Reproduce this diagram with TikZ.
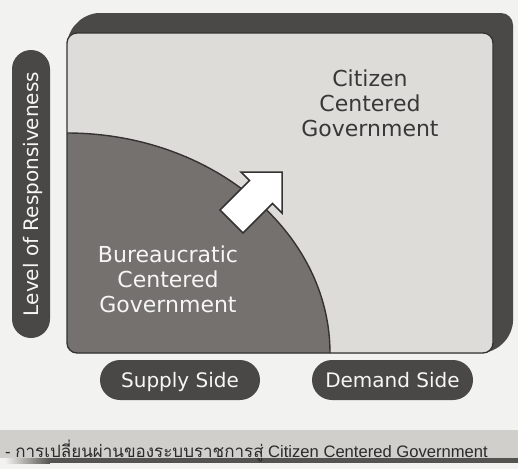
\documentclass[tikz,border=0pt]{standalone}
\usepackage{fontspec}
\setmainfont{DejaVu Sans}
\newfontfamily\thaifont[Script=Thai]{Loma}
\newfontfamily\capfont{Liberation Sans}
\definecolor{paper}{HTML}{F2F2F0}
\definecolor{framedark}{HTML}{4B4947}
\definecolor{panelgray}{HTML}{DDDCD8}
\definecolor{bureaugray}{HTML}{74716E}
\definecolor{pilldark}{HTML}{4A4846}
\definecolor{bandgray}{HTML}{D0CFCC}
\definecolor{bandshadow}{HTML}{55534F}
\definecolor{textdark}{HTML}{3A3836}
\definecolor{captext}{HTML}{2C2A28}
\definecolor{linedark}{HTML}{353331}
\definecolor{whitetext}{HTML}{F6F6F4}
\tikzset{
  pill/.style={fill=pilldark, text=whitetext, rounded corners=19, inner sep=0,
    font=\fontsize{20}{24}\selectfont, text height=14.6, text depth=0},
  bigtext/.style={align=center, inner sep=0, font=\fontsize{22}{25}\selectfont},
  arrowshape/.style={fill=white, draw=linedark, line width=1.5, line join=miter}
}
\begin{document}
\begin{tikzpicture}[x=1pt,y=-1pt]
\useasboundingbox (0,0) rectangle (518,469);
\fill[paper] (0,0) rectangle (518,469);
% 3D frame behind the panel
\fill[framedark, rounded corners=12] (67,353) -- (67,33) -- (87,13) -- (513,13) -- (513,333) -- (493,353) -- cycle;
% panel
\fill[panelgray, rounded corners=10] (67,33) rectangle (493,353);
\begin{scope}
  \clip[rounded corners=10] (67,33) rectangle (493,353);
  \fill[bureaugray] (67,133) .. controls (212,133) and (330,232) .. (330,353) -- (67,353) -- cycle;
  \draw[linedark, line width=1.4] (67,133) .. controls (212,133) and (330,232) .. (330,353);
\end{scope}
\draw[linedark, line width=1.3, rounded corners=10] (67,33) rectangle (493,353);
% block arrow
\draw[arrowshape] (220,210) -- (249.5,180.5) -- (241,172) -- (282,172) -- (282,213) -- (272.5,203.5) -- (243,233) -- cycle;
% texts
\node[bigtext, text=textdark] (citizen) at (370,103) {Citizen\\Centered\\Government};
\node[bigtext, text=whitetext] (bureau) at (168,279) {Bureaucratic\\Centered\\Government};
% axis labels
\node[pill, minimum width=288, minimum height=38, rotate=90] (yaxis) at (31,194) {Level of Responsiveness};
\node[pill, minimum width=160, minimum height=40, rounded corners=20] (supply) at (180,380) {Supply Side};
\node[pill, minimum width=161, minimum height=40, rounded corners=20] (demand) at (392.5,380) {Demand Side};
% caption band
\fill[bandgray] (0,430) rectangle (518,458);
\shade[left color=paper, right color=bandshadow] (5,458) rectangle (50,463);
\fill[bandshadow] (50,458) rectangle (518,463);
\node[anchor=base west, inner sep=0, text=captext, font=\fontsize{16.6}{20}\selectfont] (caption) at (5,457)
  {{\capfont -\ }{\thaifont\fontsize{17}{20}\selectfont การเปลี่ยนผ่านของระบบราชการสู่}{\capfont\ Citizen Centered Government}};
\end{tikzpicture}
\end{document}
